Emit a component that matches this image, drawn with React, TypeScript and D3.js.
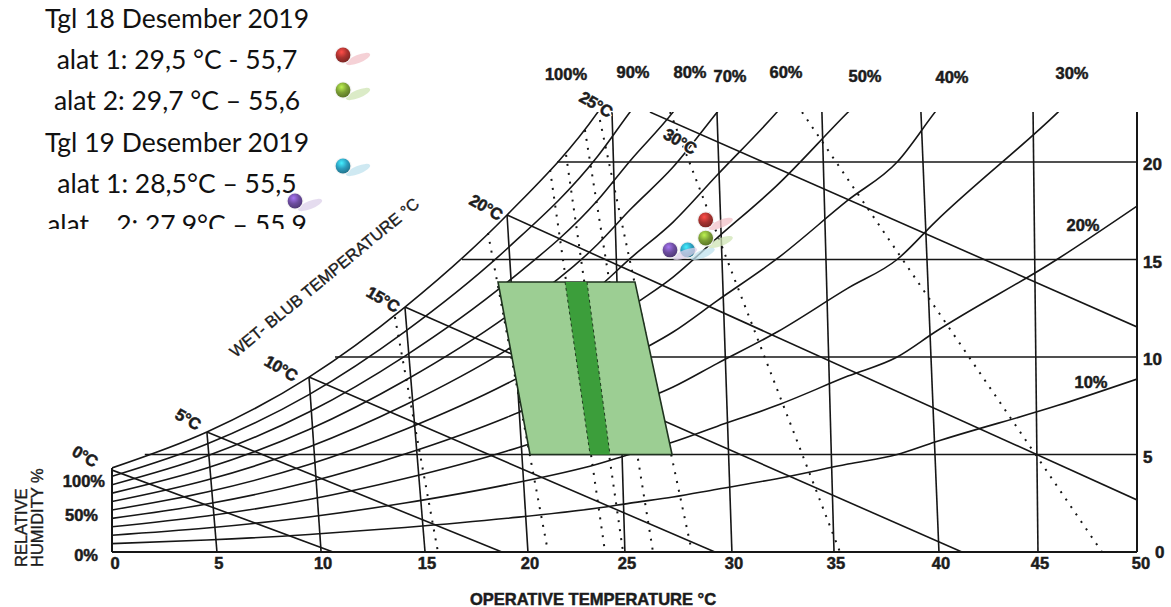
import React from 'react';
import * as d3 from 'd3';

// saturation curve (100% RH): operative temp °C -> vapour pressure
const SAT_T = [0, 4.63, 9.61, 14.29, 19.27, 23.7, 25.27, 27.37, 29.51, 32.44, 35.9, 38.3, 40.15, 46.15, 50];
const SAT_VP = [4.31, 6.15, 8.97, 12.56, 17.28, 22.56, 25.07, 28.2, 32.2, 37.6, 45.1, 50.0, 56.4, 75.2, 88.7];
const RH_LEVELS = [0.1, 0.2, 0.3, 0.4, 0.5, 0.6, 0.7, 0.8, 0.9, 1.0];
const VP_TOP = 22.56;

// horizontal vapour pressure lines
const VP_LINES = [5, 10, 15, 20];
const VP_LINE_START_T = [1.6, 10.88, 17.07, 21.71];
const VP_TICKS = ['20', '15', '10', '5'];

// near-vertical effective temperature lines
const ET_TOP_T = [4.63, 9.61, 14.29, 19.27, 24.39, 29.51, 34.63, 39.46, 44.93];
const ET_TOP_VP = [6.15, 8.97, 12.56, 17.28, 22.56, 22.56, 22.56, 22.56, 22.56];
const ET_BOTTOM_T = [5.12, 10.2, 15.27, 20.29, 25.02, 30.24, 35.22, 40.34, 45.17];
const TEMP_TICKS = ['0', '5', '10', '15', '20', '25', '30', '35', '40', '45', '50'];

// wet-bulb lines
const WB_START_T = [0, 4.63, 9.61, 14.29, 19.27, 26.24];
const WB_START_VP = [4.2, 6.15, 8.97, 12.56, 17.28, 22.56];
const WB_END_T = [10.78, 19.02, 29.41, 41.46, 50, 50];
const WB_END_VP = [0, 0, 0, 0, 2.67, 11.54];
const WB_LABELS = ['0°C', '5°C', '10°C', '15°C', '20°C', '25°C', '30°C'];

// dotted lines
const DOT_TOP_T = [13.8, 18.34, 21.37, 22.15, 23.07, 23.8, 27.22, 33.66];
const DOT_TOP_VP = [12.05, 16.36, 19.59, 20.36, 21.64, 22.15, 22.56, 22.56];
const DOT_BOTTOM_T = [15.9, 21.27, 24.05, 24.93, 26.39, 28.29, 35.51, 48.29];

// comfort zone
const ZONE_T = [18.83, 25.51, 27.32, 20.39];
const ZONE_VP = [13.85, 13.85, 5, 5];
const BAND_T = [22.1, 23.17, 24.29, 23.32];

// measurements
const MARK_T = [28.96, 28.96, 28.08, 27.22];
const MARK_VP = [17.03, 16.1, 15.49, 15.49];
const MARK_COLORS = ['#a8322f', '#7b9e35', '#2c9cbd', '#6c4c9e'];
const MARK_SHADOW = ['#f2c2c8', '#cfe4b4', '#bfe2ee', '#dcd0ea'];

const RH_TOP_LABELS = ['100%', '90%', '80%', '70%', '60%', '50%', '40%', '30%'];
const RH_SIDE_LABELS = ['20%', '10%'];
const LEFT_LABELS = ['100%', '50%', '0%'];

const LEGEND_LINES = [
    'Tgl 18 Desember 2019',
    'alat 1: 29,5 °C - 55,7',
    'alat 2: 29,7 °C – 55,6',
    'Tgl 19 Desember 2019',
    'alat 1: 28,5°C – 55,5',
    'alat    2: 27,9°C – 55,9',
];

const W = 1171;
const H = 607;
const x = d3.scaleLinear().domain([0, 50]).range([112, 1137]);
const y = d3.scaleLinear().domain([0, 20]).range([552, 162]);

const seg = d3.line<[number, number]>().x((d) => x(d[0])).y((d) => y(d[1]));
const curve = d3
    .line<[number, number]>()
    .x((d) => x(d[0]))
    .y((d) => y(d[1]))
    .curve(d3.curveMonotoneX);

const INK = '#161616';
const FONT = 'Arial, Liberation Sans, Helvetica, sans-serif';

export default function App() {
    const rhPaths = RH_LEVELS.map((rh) => curve(SAT_T.map((t, i) => [t, SAT_VP[i] * rh])));

    // label layout (pixels)
    const topLabelPos = [[566, 80], [633, 78], [690, 78], [730, 82], [786, 78], [865, 82], [952, 83], [1072, 79]];
    const sideLabelPos = [[1083, 231], [1091, 388]];
    const wbLabelPos = [[85, 456], [188, 419], [281, 368], [383, 299], [486, 207], [596, 104], [680, 141]];
    const leftLabelPos = [[105, 487], [98, 521], [98, 561]];
    const legendMarks = [[343, 55], [343, 90], [343, 166], [295, 201]];

    const marker = (cx: number, cy: number, i: number, key: string) => (
        <g key={key}>
            <ellipse
                cx={cx + 15}
                cy={cy + 4}
                rx={13}
                ry={4}
                fill={MARK_SHADOW[i]}
                opacity={0.75}
                transform={`rotate(-22 ${cx + 15} ${cy + 4})`}
            />
            <circle cx={cx} cy={cy} r={8.6} fill="#f2f2f2" />
            <circle cx={cx} cy={cy} r={7.4} fill={`url(#mk${i})`} />
        </g>
    );

    return (
        <svg
            width={W}
            height={H}
            viewBox={`0 0 ${W} ${H}`}
            style={{ position: 'absolute', left: 0, top: 0, background: '#fff' }}
        >
            <defs>
                <clipPath id="plot">
                    <rect x={x(0)} y={y(VP_TOP)} width={x(50) - x(0)} height={y(0) - y(VP_TOP)} />
                </clipPath>
                <clipPath id="legendClip">
                    <rect x={0} y={0} width={W} height={229} />
                </clipPath>
                {MARK_COLORS.map((c, i) => (
                    <radialGradient key={c} id={`mk${i}`} cx="40%" cy="30%" r="70%">
                        <stop offset="0%" stopColor={d3.color(c)!.brighter(1.2).formatHex()} />
                        <stop offset="55%" stopColor={c} />
                        <stop offset="100%" stopColor={d3.color(c)!.darker(0.8).formatHex()} />
                    </radialGradient>
                ))}
            </defs>

            <g clipPath="url(#plot)" fill="none" stroke={INK} strokeWidth={1.6}>
                {rhPaths.map((p, i) => (
                    <path key={`rh${i}`} d={p ?? ''} />
                ))}
                {VP_LINES.map((v, i) => (
                    <path key={`vp${v}`} d={seg([[VP_LINE_START_T[i], v], [50, v]]) ?? ''} />
                ))}
                {ET_TOP_T.map((t, i) => (
                    <path key={`et${i}`} d={seg([[t, ET_TOP_VP[i]], [ET_BOTTOM_T[i], 0]]) ?? ''} />
                ))}
                {WB_START_T.map((t, i) => (
                    <path key={`wb${i}`} d={seg([[t, WB_START_VP[i]], [WB_END_T[i], WB_END_VP[i]]]) ?? ''} />
                ))}
                {DOT_TOP_T.map((t, i) => (
                    <path
                        key={`dot${i}`}
                        d={seg([[t, DOT_TOP_VP[i]], [DOT_BOTTOM_T[i], 0]]) ?? ''}
                        strokeWidth={2}
                        strokeDasharray="2 7"
                    />
                ))}
            </g>

            {/* frame */}
            <g stroke={INK} strokeWidth={2} fill="none">
                <path d={seg([[0, 0], [50, 0]]) ?? ''} />
                <path d={seg([[0, 0], [0, SAT_VP[0]]]) ?? ''} />
                <path d={seg([[50, 0], [50, VP_TOP]]) ?? ''} />
            </g>

            {/* comfort zone */}
            <path
                d={(seg(ZONE_T.map((t, i) => [t, ZONE_VP[i]])) ?? '') + 'Z'}
                fill="#9cce93"
                stroke="#1f331f"
                strokeWidth={1.6}
            />
            <path
                d={(seg(BAND_T.map((t, i) => [t, ZONE_VP[i]])) ?? '') + 'Z'}
                fill="#3c9e3b"
                stroke="none"
            />
            <g stroke="#1f3a1f" strokeWidth={1} strokeDasharray="3 3">
                <path d={seg([[BAND_T[0], ZONE_VP[0]], [BAND_T[3], ZONE_VP[3]]]) ?? ''} />
                <path d={seg([[BAND_T[1], ZONE_VP[1]], [BAND_T[2], ZONE_VP[2]]]) ?? ''} />
            </g>

            {/* wet-bulb label halos */}
            <g fontFamily={FONT} fontWeight="bold" fontSize={16.5} fill="#fff" stroke="#fff" strokeWidth={3}>
                {WB_LABELS.map((t, i) => (
                    <text
                        key={`wbh${t}`}
                        textAnchor="middle"
                        dominantBaseline="central"
                        letterSpacing={-0.5}
                        transform={`translate(${wbLabelPos[i][0]},${wbLabelPos[i][1]}) rotate(30)`}
                    >
                        {t}
                    </text>
                ))}
            </g>

            {/* labels */}
            <g fontFamily={FONT} fontWeight="bold" fill="#1c1c1c" stroke="#1c1c1c" strokeWidth={0.5} fontSize={16.5}>
                {RH_TOP_LABELS.map((t, i) => (
                    <text key={t} x={topLabelPos[i][0]} y={topLabelPos[i][1]} textAnchor="middle">
                        {t}
                    </text>
                ))}
                {RH_SIDE_LABELS.map((t, i) => (
                    <text key={t} x={sideLabelPos[i][0]} y={sideLabelPos[i][1]} textAnchor="middle">
                        {t}
                    </text>
                ))}
                {VP_TICKS.map((t, i) => (
                    <text key={`vt${t}`} x={x(50) + 6} y={y(VP_LINES[VP_LINES.length - 1 - i]) + 8} fontSize={17}>
                        {t}
                    </text>
                ))}
                <text x={x(50) + 18} y={y(0) + 6} fontSize={17}>
                    0
                </text>
                {TEMP_TICKS.map((t, i) => {
                    const px = i === 0 ? x(0) + 3 : i === TEMP_TICKS.length - 1 ? x(50) + 4 : x(ET_BOTTOM_T[i - 1]) + 2;
                    return (
                        <text key={`tt${t}`} x={px} y={569} textAnchor="middle" fontSize={16.5}>
                            {t}
                        </text>
                    );
                })}
                {LEFT_LABELS.map((t, i) => (
                    <text key={`l${t}`} x={leftLabelPos[i][0]} y={leftLabelPos[i][1]} textAnchor="end" fontSize={16.5}>
                        {t}
                    </text>
                ))}
                {WB_LABELS.map((t, i) => (
                    <text
                        key={`wbl${t}`}
                        textAnchor="middle"
                        dominantBaseline="central"
                        letterSpacing={-0.5}
                        transform={`translate(${wbLabelPos[i][0]},${wbLabelPos[i][1]}) rotate(30)`}
                    >
                        {t}
                    </text>
                ))}
                <text x={593} y={605} textAnchor="middle" fontSize={16.5}>
                    OPERATIVE TEMPERATURE °C
                </text>
            </g>
            <g fontFamily={FONT} fontSize={16.5} fill="#1c1c1c" stroke="#1c1c1c" strokeWidth={0.35}>
                <text textAnchor="middle" transform="translate(328,282) rotate(-39.5)">
                    WET- BLUB TEMPERATURE °C
                </text>
                <text transform="translate(27,567) rotate(-90)">RELATIVE</text>
                <text transform="translate(43,567) rotate(-90)">HUMIDITY %</text>
            </g>

            {/* measured points */}
            {MARK_T.map((t, i) => marker(x(t), y(MARK_VP[i]), i, `m${i}`))}

            {/* legend */}
            <g clipPath="url(#legendClip)" fontFamily="Lato, sans-serif" fontSize={26.5} fill="#111">
                {LEGEND_LINES.map((l, i) => (
                    <text key={`lg${i}`} x={177} y={28 + i * 41.2} textAnchor="middle" style={{ whiteSpace: 'pre' }}>
                        {l}
                    </text>
                ))}
            </g>
            {legendMarks.map((p, i) => marker(p[0], p[1], i, `lm${i}`))}
        </svg>
    );
}
